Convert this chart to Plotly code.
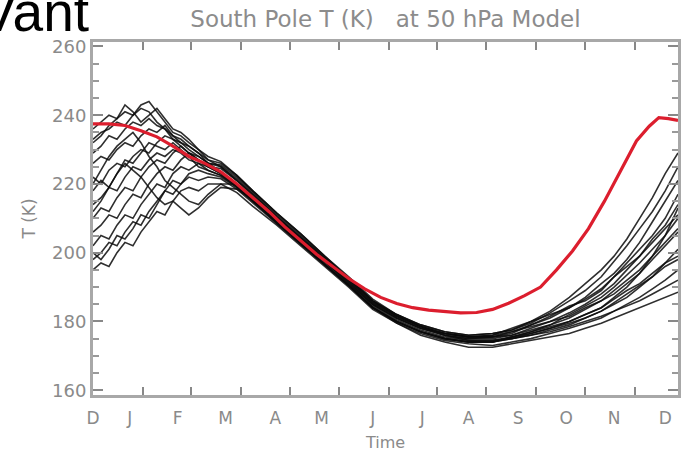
import plotly.graph_objects as go

# ---- data -------------------------------------------------------------
DAYS = [0, 5, 10, 15, 20, 25, 30, 35, 40, 45, 50, 55, 60, 66, 72,
        80, 90, 100, 115, 130, 145, 160, 175, 190, 205, 220, 235, 250,
        262, 274, 286, 298, 308, 318, 326, 334, 342, 350, 358, 366]

member_01 = [236, 238, 240, 239, 241, 240, 242, 241, 238, 236, 234, 233, 231, 229, 227,
             225, 221, 216.5, 210, 204, 197.5, 191, 185, 181, 178, 176.5, 175.5, 176,
             178, 180, 183, 187, 191, 195, 199, 204, 210, 216, 223, 229]
member_02 = [233, 235, 236, 238, 237, 240, 243, 244, 241, 238, 235, 234, 232, 230, 228,
             226.5, 222.5, 218, 211.5, 205.5, 199, 192.5, 186, 181.5, 178.5, 176, 175, 175.5,
             177, 179, 181, 184, 187, 191, 194, 198, 203, 209, 215, 221]
member_03 = [229, 231, 234, 233, 236, 238, 237, 239, 237, 236, 233, 232, 230, 228, 226,
             223.5, 219.5, 215, 208.5, 202.5, 196.5, 190.5, 184, 180, 177, 175, 174, 174,
             175.5, 177, 178.5, 180, 182, 184, 187, 190, 194, 199, 205, 213]
member_04 = [226, 228, 227, 230, 232, 231, 234, 236, 235, 237, 234, 232, 231, 229, 226,
             225.5, 222, 217.5, 211, 205, 198.5, 192.5, 186, 182, 178.5, 176.5, 175.5, 175.5,
             176.5, 179, 181.5, 184.5, 186, 189, 193, 197, 201, 205, 210, 217]
member_05 = [222, 220, 224, 226, 225, 228, 230, 229, 232, 234, 233, 231, 229, 227, 225,
             223, 219.5, 215, 209, 203, 196.5, 190.5, 184, 180, 177, 175, 174, 174,
             175, 176, 177.5, 179, 181, 183, 185, 187, 190, 193, 197, 201]
member_06 = [218, 221, 219, 223, 227, 226, 229, 232, 231, 230, 232, 230, 228, 225, 224,
             222.5, 219.5, 215.5, 209.5, 204, 198, 192, 185.5, 181.5, 178.5, 176.5, 175.5, 176,
             177, 178.5, 180, 182.5, 185, 188, 191, 195, 199, 204, 208, 214]
member_07 = [214, 216, 219, 218, 222, 225, 224, 227, 229, 228, 230, 229, 227, 226, 224,
             222.5, 219, 215, 209, 202.5, 196.5, 190.5, 184, 180, 177, 175, 174, 174,
             175.5, 176.5, 178, 180, 182, 184, 186.5, 189, 191, 194, 197, 199]
member_08 = [210, 213, 212, 216, 219, 218, 222, 225, 227, 226, 229, 231, 229, 227, 225,
             224.5, 221, 217, 210.5, 204.5, 198, 192, 185.5, 181.5, 178.5, 176.5, 175.5, 175.5,
             176, 178, 180, 181.5, 184, 186, 189, 192, 195, 199, 203, 207]
member_09 = [206, 208, 211, 210, 214, 217, 216, 220, 223, 225, 224, 227, 229, 228, 226,
             225, 221.5, 217, 210.5, 204.5, 198.5, 192.5, 186, 182, 179, 177, 176, 176.5,
             177.5, 180, 182, 184, 186.5, 189.5, 193, 196, 199, 203, 207, 211]
member_10 = [202, 205, 204, 208, 211, 210, 214, 217, 220, 219, 223, 225, 224, 226, 225,
             223, 219.5, 215.5, 209, 203, 196.5, 190.5, 184, 180, 177, 175, 174, 174,
             175, 176, 177, 178.5, 180, 181.5, 183, 185, 187, 189.5, 192, 195]
member_11 = [198, 200, 203, 202, 206, 209, 208, 212, 215, 218, 217, 220, 222, 221, 222,
             221.5, 218.5, 214.5, 208.5, 202.5, 196.5, 190.5, 184, 179.5, 176.5, 174.5, 173.5, 173,
             174, 175, 176.5, 178, 179.5, 181, 183, 184.5, 186, 188, 190, 192]
member_12 = [195, 197, 196, 200, 203, 202, 206, 209, 212, 211, 215, 218, 219, 218, 220,
             220, 217.5, 213.5, 208, 202, 196, 190, 183.5, 179.5, 176, 174, 172.5, 172.5,
             173.5, 174.5, 175.5, 176.5, 178, 179.5, 181, 182.5, 184, 185.5, 187, 188.5]
member_13 = [212, 215, 219, 223, 226, 224, 222, 219, 216, 214, 215, 213, 211, 213, 216,
             219, 218.5, 215.5, 209.5, 203.5, 197.5, 191.5, 185, 181, 178, 176, 175, 175,
             176, 177.5, 179, 181, 183.5, 186, 188, 191, 194, 198, 202, 206]
member_14 = [220, 224, 228, 231, 233, 235, 232, 228, 225, 221, 219, 217, 215, 214, 217,
             220, 220, 216, 210, 204, 197.5, 191.5, 185, 181, 178, 176, 174.5, 174.5,
             175.5, 177, 179, 182, 184.5, 187, 190, 193.5, 197, 201, 205, 210]
member_15 = [232, 234, 237, 239, 243, 241, 238, 240, 242, 239, 236, 235, 233, 230, 227,
             226, 222.5, 218, 211.5, 205.5, 199, 193, 186.5, 182, 179, 177, 176, 176.5,
             177.5, 179.5, 182.5, 186, 189, 193, 197.5, 202, 207, 212, 218, 225]
member_16 = [200, 198, 201, 205, 204, 207, 211, 210, 214, 218, 221, 220, 223, 224, 223,
             222, 219, 215, 209, 203, 197, 191, 184.5, 180.5, 177.5, 175.5, 174.5, 174.5,
             175, 176.5, 178, 179.5, 181, 183, 185.5, 188, 190.5, 193, 196, 198]

ENSEMBLE = [member_01, member_02, member_03, member_04, member_05, member_06,
            member_07, member_08, member_09, member_10, member_11, member_12,
            member_13, member_14, member_15, member_16]

RED_DAYS = [0, 10, 20, 30, 40, 50, 60, 70, 80, 90, 100, 110, 120, 130, 140, 150,
            160, 170, 180, 190, 200, 210, 220, 230, 240, 250, 260, 270, 280, 290,
            300, 310, 320, 330, 340, 348, 354, 360, 366]
RED_TEMP = [237.5, 237.5, 237, 235.5, 233.7, 231, 228, 226, 223.5, 220, 216, 212,
            207.5, 203.5, 199.5, 196, 192.5, 189.5, 187, 185.2, 184, 183.3, 182.8,
            182.5, 182.6, 183.5, 185.3, 187.5, 190, 195, 200.5, 207, 215, 224, 232.5,
            236.8, 239.3, 239, 238.5]

MONTH_LABELS = ["D", "J", "F", "M", "A", "M", "J", "J", "A", "S", "O", "N", "D"]
MONTH_LABEL_DAYS = [0, 23, 53, 83, 114, 143, 175, 206, 235, 266, 296, 326, 358]
MONTH_TICK_DAYS = [31, 61.5, 92.5, 123, 154, 185, 215, 246, 277, 308, 339]
Y_TICKS = [160, 180, 200, 220, 240, 260]

TITLE = "South Pole T (K)\u00a0\u00a0 at 50 hPa Model"

# ---- figure -----------------------------------------------------------
fig = go.Figure()
for m in ENSEMBLE:
    fig.add_trace(go.Scatter(x=DAYS, y=m, mode="lines",
                             line=dict(color="rgba(10,10,10,0.85)", width=1.6),
                             hoverinfo="skip"))
fig.add_trace(go.Scatter(x=RED_DAYS, y=RED_TEMP, mode="lines",
                         line=dict(color="#dc1e2e", width=3.2), hoverinfo="skip"))

axis_color = "#a8a8a8"
fig.update_layout(
    width=684, height=454,
    margin=dict(l=93, r=3, t=42, b=59),
    paper_bgcolor="white", plot_bgcolor="white",
    showlegend=False,
    font=dict(family="DejaVu Sans", size=17, color="#8a8a8a"),
    title=dict(text=TITLE, x=0.5, xref="paper", xanchor="center",
               y=1 - 19 / 454, yref="container", yanchor="middle",
               font=dict(size=23, color="#8c8c8c")),
    xaxis=dict(range=[0, 366], showgrid=False, zeroline=False,
               tickmode="array", tickvals=MONTH_LABEL_DAYS, ticktext=MONTH_LABELS,
               ticks="inside", ticklen=0, tickfont=dict(size=17),
               ticklabelstandoff=6,
               showline=True, linecolor=axis_color, linewidth=3, mirror="ticks",
               minor=dict(tickmode="array", tickvals=MONTH_TICK_DAYS, ticks="inside",
                          ticklen=8, tickwidth=2, tickcolor="#888"),
               title=dict(text="Time", standoff=10, font=dict(size=16))),
    yaxis=dict(range=[158.6, 261.3], showgrid=False, zeroline=False,
               tickmode="array", tickvals=Y_TICKS, ticks="inside", ticklen=10,
               tickwidth=2, tickcolor="#888", tickfont=dict(size=18),
               showline=True, linecolor=axis_color, linewidth=3, mirror="ticks",
               minor=dict(dtick=5, tick0=0, ticks="inside", ticklen=6, tickwidth=2,
                          tickcolor="#999"),
               title=dict(text="T (K)", standoff=13, font=dict(size=17))),
)

fig.add_annotation(text="Vant", xref="paper", yref="paper",
                   x=(-23 - 93) / 588, xanchor="left",
                   y=(395 - 45) / 353, yanchor="bottom",
                   showarrow=False,
                   font=dict(family="Liberation Sans", size=55, color="black"))

fig.write_html("out.html")
